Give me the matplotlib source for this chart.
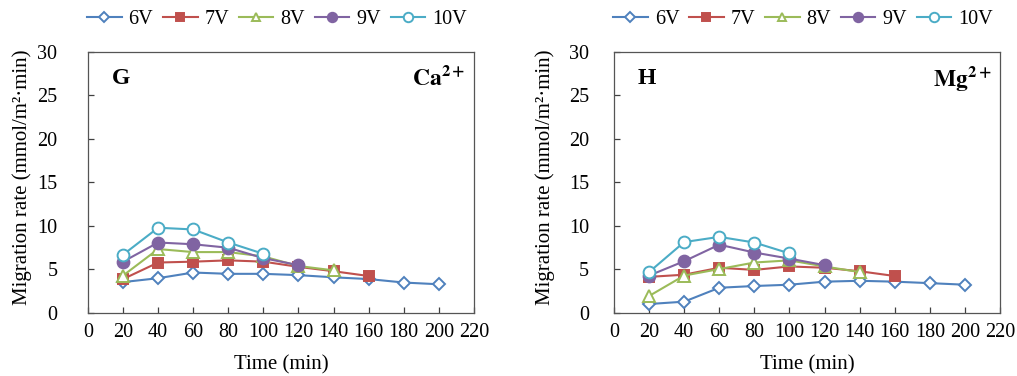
import matplotlib
matplotlib.use("Agg")
import matplotlib.pyplot as plt

plt.rcParams['font.family'] = ['Liberation Serif', 'DejaVu Serif']
plt.rcParams['mathtext.fontset'] = 'stix'

series_names = ["6V", "7V", "8V", "9V", "10V"]
time_6v = [20, 40, 60, 80, 100, 120, 140, 160, 180, 200]
time_7v = [20, 40, 60, 80, 100, 120, 140, 160]
time_8v = [20, 40, 60, 80, 100, 120, 140]
time_9v = [20, 40, 60, 80, 100, 120]
time_10v = [20, 40, 60, 80, 100]

# Panel G: Ca2+
ca_6v = [3.55, 4.0, 4.65, 4.5, 4.5, 4.35, 4.1, 3.9, 3.5, 3.3]
ca_7v = [3.9, 5.8, 5.9, 6.05, 5.9, 5.3, 4.8, 4.25]
ca_8v = [4.3, 7.35, 7.0, 7.0, 6.5, 5.4, 4.9]
ca_9v = [5.9, 8.1, 7.9, 7.5, 6.3, 5.5]
ca_10v = [6.7, 9.8, 9.6, 8.1, 6.8]

# Panel H: Mg2+
mg_6v = [1.03, 1.3, 2.9, 3.1, 3.25, 3.6, 3.7, 3.6, 3.43, 3.25]
mg_7v = [4.15, 4.4, 5.2, 4.95, 5.35, 5.2, 4.8, 4.25]
mg_8v = [1.95, 4.3, 5.05, 5.8, 6.05, 5.35, 4.7]
mg_9v = [4.3, 5.95, 7.85, 6.95, 6.25, 5.5]
mg_10v = [4.7, 8.15, 8.75, 8.1, 6.85]

x_ticks = [0, 20, 40, 60, 80, 100, 120, 140, 160, 180, 200, 220]
y_ticks = [0, 5, 10, 15, 20, 25, 30]

colors = ["#4F81BD", "#C0504D", "#9BBB59", "#8064A2", "#4BACC6"]
markers = ["D", "s", "^", "o", "o"]
facecolors = ["white", None, "white", None, "white"]
msizes = [6.0, 7.5, 8, 8.5, 8.5]

fig = plt.figure(figsize=(10.17, 3.76), dpi=100)
ax1 = fig.add_axes([0.0865, 0.1676, 0.3795, 0.6941])
ax2 = fig.add_axes([0.6037, 0.1676, 0.3796, 0.6941])

panels = [
    (ax1, [ca_6v, ca_7v, ca_8v, ca_9v, ca_10v], "G", r"$\mathbf{Ca^{2+}}$", -0.145, 22),
    (ax2, [mg_6v, mg_7v, mg_8v, mg_9v, mg_10v], "H", r"$\mathbf{Mg^{2+}}$", -0.152, 18),
]
times = [time_6v, time_7v, time_8v, time_9v, time_10v]

for ax, data, letter, ion, ylx, ypad in panels:
    for i, (t, v) in enumerate(zip(times, data)):
        fc = facecolors[i] if facecolors[i] else colors[i]
        ax.plot(t, v, color=colors[i], marker=markers[i], markersize=msizes[i],
                markerfacecolor=fc, markeredgecolor=colors[i], markeredgewidth=1.4,
                linewidth=1.5, label=series_names[i])
    ax.set_xlim(0, 220)
    ax.set_ylim(0, 30)
    ax.set_xticks(x_ticks)
    ax.set_yticks(y_ticks)
    ax.tick_params(direction='in', length=4, width=0.9, colors='#404040',
                   labelcolor='black', labelsize=14.5)
    ax.tick_params(axis='x', pad=7)
    ax.tick_params(axis='y', pad=ypad)
    for s in ax.spines.values():
        s.set_color('#555555')
        s.set_linewidth(0.9)
    ax.set_xlabel("Time (min)", fontsize=15, labelpad=10)
    ax.set_ylabel("Migration rate (mmol/m\u00b2\u00b7min)", fontsize=15)
    ax.yaxis.set_label_coords(ylx, 0.52)
    ax.text(0.062, 0.9, letter, transform=ax.transAxes, fontsize=17,
            fontweight='bold', va='center', ha='left')
    ax.text(0.978, 0.9, ion, transform=ax.transAxes, fontsize=17,
            va='center', ha='right')
    ax.legend(loc='center', bbox_to_anchor=(0.49, 1.125), ncol=5, frameon=False,
              fontsize=14.5, handlelength=1.7, handletextpad=0.35, columnspacing=0.5,
              borderaxespad=0, borderpad=0, markerscale=0.8)

fig.savefig("out.png", dpi=100)
